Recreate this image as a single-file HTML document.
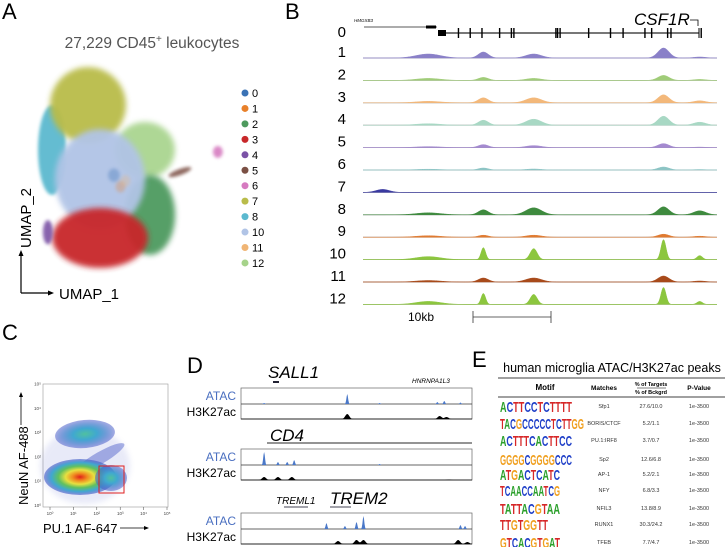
<!DOCTYPE html>
<html><head><meta charset="utf-8">
<style>
html,body{margin:0;padding:0;background:#fff;}
svg{display:block;font-family:"Liberation Sans",sans-serif;}
</style></head>
<body>
<svg id="fig" width="725" height="547" viewBox="0 0 725 547">
<defs>
 <filter id="blur4" x="-50%" y="-50%" width="200%" height="200%"><feGaussianBlur stdDeviation="3"/></filter>
 <filter id="blur2" x="-50%" y="-50%" width="200%" height="200%"><feGaussianBlur stdDeviation="1.5"/></filter>
 <radialGradient id="jet" cx="50%" cy="50%" r="50%">
  <stop offset="0" stop-color="#e0201a"/><stop offset="0.2" stop-color="#f08a20"/>
  <stop offset="0.4" stop-color="#e8e040"/><stop offset="0.6" stop-color="#60c060"/>
  <stop offset="0.8" stop-color="#40a8d0"/><stop offset="1" stop-color="#4858c8" stop-opacity="0.6"/>
 </radialGradient>
 <radialGradient id="jet2" cx="50%" cy="50%" r="50%">
  <stop offset="0" stop-color="#50c0a0"/><stop offset="0.4" stop-color="#40a8d0"/>
  <stop offset="1" stop-color="#4858c8" stop-opacity="0.5"/>
 </radialGradient>
</defs>

<!-- Panel A -->
<g>
 <text x="2" y="19" font-size="22">A</text>
 <text x="152" y="48" font-size="15.5" fill="#555" text-anchor="middle">27,229 CD45<tspan font-size="10" dy="-6">+</tspan><tspan dy="6"> leukocytes</tspan></text>
 <g id="umap"></g>
 <g id="umapLegend"></g>
 <line x1="21" y1="293" x2="21" y2="254" stroke="#000" stroke-width="1.2"/>
 <polygon points="21,250 18.5,256 23.5,256" fill="#000"/>
 <line x1="21" y1="293" x2="50" y2="293" stroke="#000" stroke-width="1.2"/>
 <polygon points="54,293 48,290.5 48,295.5" fill="#000"/>
 <text transform="translate(31,248) rotate(-90)" font-size="15">UMAP_2</text>
 <text x="59" y="299" font-size="15">UMAP_1</text>
</g>

<!-- Panel B -->
<g>
 <text x="285" y="19" font-size="22">B</text>
 <text x="354" y="22" font-size="4.5" font-style="italic">HMGXB3</text>
 <text x="634" y="25" font-size="17" font-style="italic">CSF1R</text>
 <path d="M690,20 H698 V26" stroke="#000" fill="none" stroke-width="0.8"/>
 <g id="geneModel"></g>
 <g id="tracks"></g>
 <text x="408" y="321" font-size="12">10kb</text>
 <g>
  <line x1="473" y1="317" x2="551" y2="317" stroke="#333" stroke-width="0.8"/>
  <line x1="473" y1="311" x2="473" y2="323" stroke="#333" stroke-width="0.8"/>
  <line x1="551" y1="311" x2="551" y2="323" stroke="#333" stroke-width="0.8"/>
 </g>
</g>

<!-- Panel C -->
<g>
 <text x="2" y="340" font-size="22">C</text>
 <rect x="43" y="384" width="125" height="123" fill="#fff" stroke="#999" stroke-width="0.6"/>
 <g id="flow">
  <ellipse cx="85" cy="466" rx="45" ry="38" fill="#4858c8" opacity="0.12" filter="url(#blur4)"/>
  <ellipse cx="85" cy="434" rx="30" ry="14" fill="url(#jet2)" transform="rotate(-5 85 434)"/>
  <ellipse cx="100" cy="458" rx="28" ry="6" fill="#4858c8" opacity="0.45" transform="rotate(-30 100 458)"/>
  <ellipse cx="80" cy="477" rx="36" ry="18" fill="url(#jet)"/>
  <ellipse cx="111" cy="478" rx="16" ry="13" fill="url(#jet2)"/>
 </g>
 <rect x="99" y="466" width="25" height="27" fill="none" stroke="#e02020" stroke-width="1"/>
 <g id="flowTicks"></g>
 <text transform="translate(28,505) rotate(-90)" font-size="13">NeuN AF-488</text>
 <line x1="21" y1="395" x2="21" y2="425" stroke="#000" stroke-width="0.8"/>
 <polygon points="21,392 19,397 23,397" fill="#000"/>
 <text x="43" y="533" font-size="13">PU.1 AF-647</text>
 <line x1="120" y1="528" x2="146" y2="528" stroke="#000" stroke-width="0.8"/>
 <polygon points="149,528 144,526 144,530" fill="#000"/>
</g>

<!-- Panel D -->
<g>
 <text x="187" y="373" font-size="22">D</text>
 <g id="dTracks"></g>
</g>

<!-- Panel E -->
<g>
 <text x="472" y="367" font-size="22">E</text>
 <text x="612" y="372" font-size="12.5" text-anchor="middle">human microglia ATAC/H3K27ac peaks</text>
 <line x1="498" y1="378" x2="725" y2="378" stroke="#000" stroke-width="0.8"/>
 <line x1="498" y1="397" x2="725" y2="397" stroke="#000" stroke-width="0.8"/>
 <text x="545" y="390" font-size="8" font-weight="bold" text-anchor="middle">Motif</text>
 <text x="604" y="390" font-size="6.5" font-weight="bold" text-anchor="middle">Matches</text>
 <text x="651" y="386" font-size="5.5" font-weight="bold" text-anchor="middle">% of Targets</text>
 <line x1="637" y1="388" x2="666" y2="388" stroke="#000" stroke-width="0.5"/>
 <text x="651" y="394" font-size="5.5" font-weight="bold" text-anchor="middle">% of Bckgrd</text>
 <text x="699" y="390" font-size="6.5" font-weight="bold" text-anchor="middle">P-Value</text>
 <g id="motifRows"></g>
</g>
</svg>

<script>
const NS = "http://www.w3.org/2000/svg";
function mk(tag, attrs, parent){const e=document.createElementNS(NS,tag);for(const k in attrs)e.setAttribute(k,attrs[k]);if(parent)parent.appendChild(e);return e;}

/* ---------- Panel A data ---------- */
const clusterIds = ["0","1","2","3","4","5","6","7","8","10","11","12"];
const clusterColors = ["#3a72b5","#e8802a","#4e9a5e","#c8282a","#7b52a6","#7b5044","#d67bc0","#b9bc4a","#5bb9cf","#b1c4e6","#f0b575","#a6d38a"];
// UMAP coordinates of cluster centres (UMAP units) and spreads
const clusterX  = [4.6, 5.0, 6.79, 3.76, 0.6, 8.6, 10.9, 3.03, 0.85, 3.76, 5.3, 6.48];
const clusterY  = [5.2, 4.6, 3.13, 1.93, 2.23, 5.36, 6.41, 8.85, 6.51, 5.0, 4.9, 6.51];
const clusterRX = [0.35, 0.3, 1.52, 2.9, 0.3, 0.73, 0.3, 2.3, 0.85, 2.73, 0.3, 1.82];
const clusterRY = [0.35, 0.3, 2.08, 1.56, 0.63, 0.16, 0.31, 1.98, 2.34, 2.6, 0.3, 1.46];
const clusterOpacity = [0.35,0.3,0.95,0.95,0.9,0.85,0.9,0.95,0.95,0.95,0.3,0.9];
const drawOrder = [8,7,11,2,9,3,4,5,6,0,1,10];
const ux = v => 38 + v*16.5, uy = v => 275 - v*19.2;
const umap = document.getElementById('umap');
drawOrder.forEach(i=>{
  const small = clusterRX[i] < 1;
  const e = mk('ellipse',{cx:ux(clusterX[i]),cy:uy(clusterY[i]),rx:clusterRX[i]*16.5,ry:clusterRY[i]*19.2,fill:clusterColors[i],opacity:clusterOpacity[i],filter:small?'url(#blur2)':'url(#blur4)'},umap);
  if(i===5) e.setAttribute('transform','rotate(-20 '+ux(clusterX[i])+' '+uy(clusterY[i])+')');
  
  
});
const leg = document.getElementById('umapLegend');
clusterIds.forEach((id,i)=>{
  const y = 93 + i*15.45;
  const c = mk('circle',{cx:245,cy:y,r:3.5,fill:clusterColors[i]},leg);
  
  
  const t = mk('text',{x:252,y:y+4,'font-size':11},leg); t.textContent=id;
  
  
});

/* ---------- Panel B data ---------- */
const trackNames = ["1","2","3","4","5","6","7","8","9","10","11","12"];
const trackColors = ["#8a80c8","#a0cc78","#f3b87a","#a8d8c4","#a48ad0","#8cc4c4","#3a3aa0","#3e8a3e","#e07a30","#8cc63e","#a84a1a","#8cc63e"];
const peakKb = [8.3, 15.3, 21.7, 38.2, 42.8, 2.5];
const peakWidth = [2.2, 0.9, 1.4, 1.0, 1.1, 1.2];
const trackHeights = [
 [4,6,4,10,1,0],[2,3,2,5,1,0],[1.5,5,5,8,2,0],[1.5,5,6,9,3,0],
 [1,3,2,4,0.5,0],[0.8,2,1,3,0.5,0],[0,0,0,0,0,3],[2,5,7,8,4,0],
 [1.5,2,2,3,1,0],[3,12,11,20,4,0],[1.5,4,4,6,1,0],[3,11,10,17,3,0]];
const bx = kb => 363 + kb*(354/45);
const tracksG = document.getElementById('tracks');
trackNames.forEach((nm,t)=>{
  const base = 58 + t*22.4;
  const lab = mk('text',{x:346,y:base-1,'font-size':15,'text-anchor':'end'},tracksG); lab.textContent=nm;
  
  
  mk('line',{x1:363,y1:base,x2:717,y2:base,stroke:'#999','stroke-width':0.8},tracksG);
  let d='M363,'+base;
  for(let px=363;px<=717;px+=0.7){
    const kb=(px-363)*45/354; let s=0;
    peakKb.forEach((p,i)=>{const sharp=(t===9||t===11)&&i>0?0.45:1; s+=trackHeights[t][i]*Math.exp(-Math.pow((kb-p)/(peakWidth[i]*sharp),2));});
    d+=' L'+px.toFixed(1)+','+(base-s).toFixed(2);
  }
  d+=' L717,'+base+' Z';
  const p = mk('path',{d:d,fill:trackColors[t],stroke:trackColors[t],'stroke-width':0.5},tracksG);
  
  
});
// gene model row 0
const gm = document.getElementById('geneModel');
const l0 = mk('text',{x:346,y:37,'font-size':15,'text-anchor':'end'},gm); l0.textContent='0';


mk('line',{x1:364,y1:27,x2:437,y2:27,stroke:'#222','stroke-width':0.8},gm);
mk('rect',{x:426,y:25.5,width:10,height:3,fill:'#000'},gm);
mk('line',{x1:438,y1:33,x2:699,y2:33,stroke:'#777','stroke-width':2},gm);
mk('rect',{x:438,y:30,width:8,height:6,fill:'#000'},gm);
const exonKb = [1.4,2.8,4.2,6.3,7.7,8.0,13.0,13.2,13.5,16.9,19.5,21.0,23.6,24.4,26.3,26.7,30.3];
exonKb.forEach(e=>mk('rect',{x:446+e*8.4,y:28,width:1.4,height:10,fill:'#000'},gm));
mk('line',{x1:699,y1:28,x2:699,y2:38,stroke:'#000','stroke-width':1},gm);

/* ---------- Panel C ticks ---------- */
const ft = document.getElementById('flowTicks');
const flowTickLabels = ["10⁰","10¹","10²","10³","10⁴","10⁵"];
flowTickLabels.forEach((lb,i)=>{
  const y = 505 - i*24.3, x = 50 + i*23.4;
  const a=mk('text',{x:41,y:y+2,'font-size':4.5,'text-anchor':'end',fill:'#444'},ft); a.textContent=lb;
  const b=mk('text',{x:x,y:515,'font-size':4.5,'text-anchor':'middle',fill:'#444'},ft); b.textContent=lb;
  mk('line',{x1:x,y1:507,x2:x,y2:510,stroke:'#444','stroke-width':0.5},ft);
});

/* ---------- Panel D ---------- */
const dG = document.getElementById('dTracks');
const loci = [
 {gene:"SALL1", top:388, atacPk:[[46,10],[10,1],[88,3],[85,2],[95,1.5],[60,1]], h3Pk:[[46,5],[86,3],[89,2]]},
 {gene:"CD4", top:449, atacPk:[[10,13],[16,3],[23,5],[20,3],[60,1]], h3Pk:[[10,3],[16,3],[22,3],[90,0.5]]},
 {gene:"TREM2", top:513, atacPk:[[37,6],[50,7],[53,13],[45,3],[95,4],[97,3]], h3Pk:[[42,3],[50,4],[53,4],[94,4],[98,2]]}
];
const dx = v => 241 + v*2.31;
loci.forEach((L,k)=>{
  const t=L.top;
  const a=mk('text',{x:236,y:t+12,'font-size':12,'text-anchor':'end',fill:'#4a6fc0'},dG); a.textContent='ATAC';
  
  
  const h=mk('text',{x:236,y:t+28,'font-size':12,'text-anchor':'end'},dG); h.textContent='H3K27ac';
  
  
  mk('rect',{x:241,y:t,width:231,height:31,fill:'none',stroke:'#666','stroke-width':0.7},dG);
  mk('line',{x1:241,y1:t+16,x2:472,y2:t+16,stroke:'#333','stroke-width':0.8},dG);
  mk('line',{x1:241,y1:t+31,x2:472,y2:t+31,stroke:'#000','stroke-width':0.8},dG);
  [[L.atacPk,t+16,'#4a78c8',0.5],[L.h3Pk,t+31,'#000',1.2]].forEach(([pk,base,col,w])=>{
    let d='M241,'+base;
    for(let v=0;v<=100;v+=0.25){let s=0;pk.forEach(p=>{s+=p[1]*Math.exp(-Math.pow((v-p[0])/w,2));});d+=' L'+dx(v).toFixed(1)+','+(base-s).toFixed(2);}
    d+=' L472,'+base+' Z';
    const p=mk('path',{d:d,fill:col},dG);
    
    
  });
});
function dtext(x,y,s,txt,name){const e=mk('text',{x:x,y:y,'font-size':s,'font-style':'italic'},dG);e.textContent=txt;}
dtext(268,378,17,'SALL1','sall1-label');
mk('line',{x1:273,y1:382,x2:279,y2:382,stroke:'#223',"stroke-width":2},dG);
dtext(412,383,6.5,'HNRNPA1L3','hnrnpa1l3-label');
dtext(270,441,17,'CD4','cd4-label');
mk('line',{x1:267,y1:443,x2:472,y2:443,stroke:'#555','stroke-width':1.2},dG);
dtext(276,504,10,'TREML1','treml1-label');
dtext(330,504,17,'TREM2','trem2-label');
mk('line',{x1:284,y1:507,x2:308,y2:507,stroke:'#445','stroke-width':1},dG);
mk('line',{x1:330,y1:507,x2:351,y2:507,stroke:'#445','stroke-width':1},dG);

/* ---------- Panel E ---------- */
const motifs = ["ACTTCCTCTTTT","TACGCCCCCTCTTGG","ACTTTCACTTCC","GGGGCGGGGCCC","ATGACTCATC","TCAACCAATCG","TATTACGTAA","TTGTGGTT","GTCACGTGAT"];
const matches = ["Sfp1","BORIS/CTCF","PU.1:IRF8","Sp2","AP-1","NFY","NFIL3","RUNX1","TFEB"];
const targetsBckgrd = ["27.6/10.0","5.2/1.1","3.7/0.7","12.6/6.8","5.2/2.1","6.8/3.3","13.8/8.9","30.3/24.2","7.7/4.7"];
const pValues = ["1e-3500","1e-3500","1e-3500","1e-3500","1e-3500","1e-3500","1e-3500","1e-3500","1e-3500"];
const rowY = [406,423,440,459,474,490,508,524,542];
const letterColors = {A:"#2ca02c",C:"#2040c8",G:"#f0a020",T:"#d62728"};
const mr = document.getElementById('motifRows');
motifs.forEach((m,i)=>{
  const y=rowY[i];
  const len = m.length>=14?84:(m.length>=12?72:(m.length>=10?60:48));
  const t=mk('text',{x:500,y:y+6,'font-size':15,'font-weight':'bold',textLength:len,lengthAdjust:'spacingAndGlyphs'},mr);
  
  
  for(const ch of m){const s=mk('tspan',{fill:letterColors[ch]},t);s.textContent=ch;}
  const c1=mk('text',{x:604,y:y+2,'font-size':5.5,'text-anchor':'middle',fill:'#333'},mr); c1.textContent=matches[i];
  
  
  const c2=mk('text',{x:651,y:y+2,'font-size':5.5,'text-anchor':'middle',fill:'#333'},mr); c2.textContent=targetsBckgrd[i];
  
  
  const c3=mk('text',{x:699,y:y+2,'font-size':5.5,'text-anchor':'middle',fill:'#333'},mr); c3.textContent=pValues[i];
  
  
});
</script>
</body></html>
